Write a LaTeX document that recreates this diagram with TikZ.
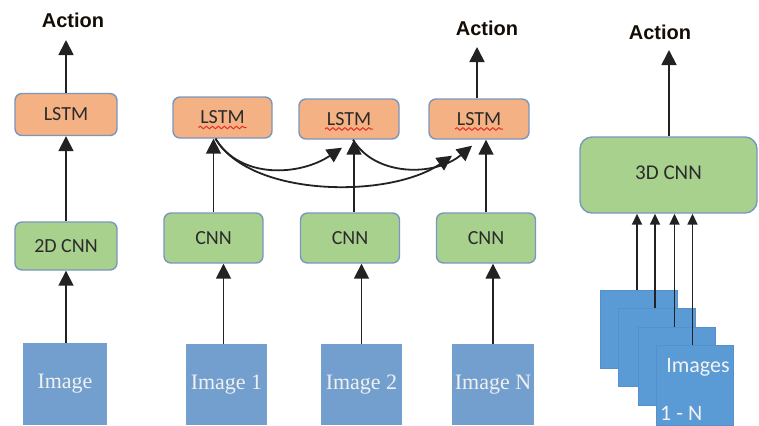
\documentclass[tikz,border=0pt]{standalone}
\usepackage{fontspec}
\setmainfont{Liberation Serif}
\newfontfamily\boxfont{Carlito}
\newfontfamily\actfont{Liberation Sans}
\usetikzlibrary{arrows.meta,decorations.pathmorphing}
\definecolor{lstmfill}{HTML}{F4B183}
\definecolor{cnnfill}{HTML}{A9D18E}
\definecolor{boxline}{HTML}{7A96BE}
\definecolor{imgfill}{HTML}{739FCF}
\definecolor{stackfill}{HTML}{5B9BD5}
\definecolor{stackline}{HTML}{5590CC}
\definecolor{txt}{HTML}{2B2B2B}
\definecolor{wavecol}{HTML}{E0302A}
\definecolor{linecol}{HTML}{222222}
\begin{document}
\begin{tikzpicture}[x=1bp,y=-1bp,
  basebox/.style={draw=boxline, line width=1.4bp, rounded corners=7bp, inner sep=0pt, text=txt,
    font=\boxfont\fontsize{20bp}{24bp}\selectfont},
  lstmbox/.style={basebox, fill=lstmfill},
  cnnbox/.style={basebox, fill=cnnfill},
  imgbox/.style={fill=imgfill, draw=none, inner sep=0pt, text=white!94!black,
    font=\fontsize{22bp}{26bp}\selectfont},
  stackbox/.style={fill=stackfill, draw=stackline, line width=0.7bp, inner sep=0pt,
    minimum width=77bp, minimum height=78bp},
  stacktext/.style={text=white!95!black, inner sep=0pt, font=\boxfont\fontsize{22bp}{26bp}\selectfont},
  actlabel/.style={inner sep=0pt, text=black!90!brown, font=\actfont\bfseries\fontsize{20bp}{24bp}\selectfont},
  arr/.style={draw=linecol, line width=1.8bp, -{Triangle[width=15bp,length=15bp]}},
  smallarr/.style={draw=linecol, line width=1.8bp, -{Triangle[width=10bp,length=11bp]}},
  redwave/.style={draw=wavecol, line width=1bp, decorate,
    decoration={snake, amplitude=1.3bp, segment length=6bp}}
]
\useasboundingbox (0,0) rectangle (759,425);

% ---------- left column ----------
\node[actlabel] (act0) at (73,20) {Action};
\coordinate (tip0) at (66,40);
\node[lstmbox, minimum width=102bp, minimum height=42bp] (lstm0) at (66,114.5) {LSTM};
\node[cnnbox, minimum width=102bp, minimum height=48bp] (cnn0) at (66,246) {2D CNN};
\node[imgbox, minimum width=84bp, minimum height=82bp] (img0) at (65,384) {Image};
\draw[arr] (img0.north -| cnn0.south) -- (cnn0.south);
\draw[arr] (cnn0.north) -- (lstm0.south);
\draw[arr] (lstm0.north) -- (tip0);

% ---------- middle ----------
\node[lstmbox, minimum width=99bp, minimum height=41bp] (lstm1) at (222.5,117.5) {LSTM};
\node[lstmbox, minimum width=100bp, minimum height=40bp] (lstm2) at (349,119) {LSTM};
\node[lstmbox, minimum width=100bp, minimum height=40bp] (lstm3) at (479,119) {LSTM};
\foreach \n in {lstm1,lstm2,lstm3}{
  \draw[redwave] ([xshift=-24bp,yshift=-10bp]\n.center) -- ([xshift=24bp,yshift=-10bp]\n.center);
}
\node[cnnbox, minimum width=99bp, minimum height=50bp] (cnn1) at (213.5,238) {CNN};
\node[cnnbox, minimum width=99bp, minimum height=50bp] (cnn2) at (350,238) {CNN};
\node[cnnbox, minimum width=99bp, minimum height=50bp] (cnn3) at (486,238) {CNN};
\node[imgbox, minimum width=81bp, minimum height=81bp] (img1) at (226.5,384.5) {Image 1};
\node[imgbox, minimum width=81bp, minimum height=81bp] (img2) at (361.5,384.5) {Image 2};
\node[imgbox, minimum width=82bp, minimum height=81bp] (img3) at (493,384.5) {Image N};

\draw[arr] ([xshift=-3bp]img1.north) -- ([xshift=-3bp]img1.north |- cnn1.south);
\draw[arr] (img2.north) -- (img2.north |- cnn2.south);
\draw[arr] (img3.north) -- (img3.north |- cnn3.south);
\draw[arr] (cnn1.north) -- (cnn1.north |- lstm1.south);
\draw[arr] ([xshift=4bp]cnn2.north) -- ([xshift=4bp]cnn2.north |- lstm2.south);
\draw[arr] (cnn3.north) -- (cnn3.north |- lstm3.south);

\node[actlabel] (act1) at (487,28) {Action};
\coordinate (tip1) at (477,47);
\draw[arr] (lstm3.north -| tip1) -- (tip1);

% recurrent connections
\coordinate (l1out) at ([xshift=-7bp]lstm1.south);
\coordinate (l2out) at ([xshift=4bp]lstm2.south);
\draw[arr] (l1out) .. controls +(25,41) and +(-42,28) .. ([xshift=-7bp,yshift=-8bp]lstm2.south);
\draw[arr] (l1out) .. controls +(35,59) and +(-62,43) .. ([xshift=-27bp,yshift=-16bp]lstm3.south);
\draw[arr] (l2out) .. controls +(22,37) and +(-37,31) .. ([xshift=-7bp,yshift=-6bp]lstm3.south);

% ---------- right: 3D CNN ----------
\node[actlabel] (act2) at (660,32) {Action};
\coordinate (tip2) at (669,50);
\node[cnnbox, minimum width=177bp, minimum height=76bp, rounded corners=12bp,
  font=\boxfont\fontsize{21bp}{25bp}\selectfont] (cnn3d) at (668.5,175) {\raisebox{5bp}{3D CNN}};
\draw[arr] (cnn3d.north -| tip2) -- (tip2);

\node[stackbox] (sa) at (639,329) {};
\node[stackbox] (sb) at (657,347.5) {};
\node[stackbox] (sc) at (676.5,366) {};
\node[stackbox, minimum height=80bp] (sd) at (694.5,385) {};
\node[stacktext] (sdt1) at (698,367) {Images};
\node[stacktext, anchor=west] (sdt2) at (660,413) {1 - N};

\draw[smallarr] ([xshift=-2bp]sa.north) -- ([xshift=-2bp]sa.north |- cnn3d.south);
\draw[smallarr] ([xshift=-2bp]sb.north) -- ([xshift=-2bp]sb.north |- cnn3d.south);
\draw[smallarr] ([xshift=-2bp]sc.north) -- ([xshift=-2bp]sc.north |- cnn3d.south);
\draw[smallarr] ([xshift=-2bp]sd.north) -- ([xshift=-2bp]sd.north |- cnn3d.south);
\end{tikzpicture}
\end{document}
